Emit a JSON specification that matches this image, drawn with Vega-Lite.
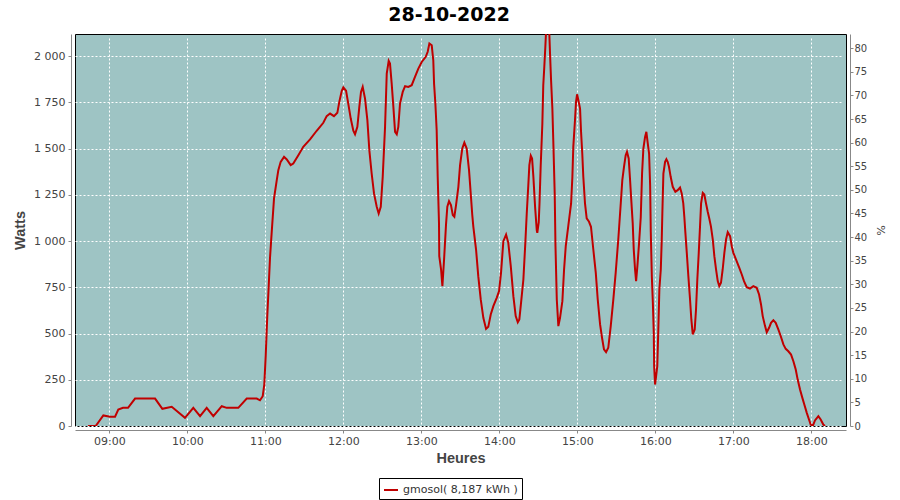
{
  "$schema": "https://vega.github.io/schema/vega-lite/v6.json",
  "width": 771,
  "height": 392,
  "autosize": "none",
  "padding": {"left": 75, "top": 34, "right": 54, "bottom": 74},
  "background": "white",
  "title": {"text": "28-10-2022", "font": "DejaVu Sans", "fontSize": 19, "fontWeight": "bold", "color": "black", "frame": "bounds", "anchor": "middle", "offset": 9},
  "config": {
    "view": {"fill": "#9ec4c4", "stroke": "black", "strokeWidth": 1},
    "axis": {
      "labelFont": "DejaVu Sans", "labelFontSize": 11, "labelColor": "#444444",
      "domainColor": "#888888", "tickColor": "#888888", "tickSize": 3,
      "titleFont": "Liberation Sans", "titleFontSize": 14.5, "titleFontWeight": "bold", "titleColor": "#444444",
      "gridColor": "white", "gridDash": [2, 2], "gridOpacity": 1, "gridWidth": 1,
      "offset": 4
    }
  },
  "resolve": {"scale": {"y": "independent"}},
  "layer": [
    {
      "data": {
        "format": {"parse": {"t": "utc:'%H:%M:%S'"}},
        "values": [
          {"t":"08:43:36","w":0},{"t":"08:49:30","w":0},{"t":"08:55:24","w":57},{"t":"09:00:32","w":50},{"t":"09:04:24","w":50},
          {"t":"09:06:54","w":89},{"t":"09:10:30","w":98},{"t":"09:14:24","w":98},{"t":"09:19:48","w":148},{"t":"09:25:12","w":148},
          {"t":"09:35:12","w":148},{"t":"09:40:48","w":93},{"t":"09:48:00","w":104},{"t":"09:58:12","w":44},{"t":"10:04:36","w":98},
          {"t":"10:09:48","w":53},{"t":"10:14:54","w":98},{"t":"10:20:00","w":53},{"t":"10:26:30","w":107},{"t":"10:30:18","w":98},
          {"t":"10:39:12","w":98},{"t":"10:45:42","w":148},{"t":"10:53:24","w":148},{"t":"10:55:54","w":139},{"t":"10:58:00","w":161},
          {"t":"10:59:12","w":224},{"t":"11:00:18","w":380},{"t":"11:01:30","w":594},{"t":"11:02:36","w":756},{"t":"11:03:36","w":909},
          {"t":"11:04:54","w":1047},{"t":"11:06:42","w":1230},{"t":"11:08:48","w":1329},{"t":"11:10:00","w":1383},{"t":"11:11:48","w":1428},
          {"t":"11:14:24","w":1455},{"t":"11:16:30","w":1441},{"t":"11:19:30","w":1410},{"t":"11:21:30","w":1419},{"t":"11:25:24","w":1464},
          {"t":"11:29:12","w":1509},{"t":"11:34:24","w":1549},{"t":"11:39:30","w":1596},{"t":"11:44:36","w":1639},{"t":"11:47:12","w":1675},
          {"t":"11:49:48","w":1689},{"t":"11:52:48","w":1675},{"t":"11:55:24","w":1693},{"t":"11:56:54","w":1752},{"t":"11:58:48","w":1812},
          {"t":"12:00:00","w":1830},{"t":"12:02:06","w":1812},{"t":"12:03:48","w":1743},{"t":"12:05:42","w":1662},{"t":"12:07:42","w":1596},
          {"t":"12:09:00","w":1577},{"t":"12:10:48","w":1617},{"t":"12:12:18","w":1725},{"t":"12:13:36","w":1806},{"t":"12:14:54","w":1833},
          {"t":"12:16:42","w":1770},{"t":"12:18:30","w":1653},{"t":"12:20:00","w":1491},{"t":"12:21:48","w":1365},{"t":"12:23:36","w":1257},
          {"t":"12:25:42","w":1185},{"t":"12:27:12","w":1149},{"t":"12:28:48","w":1185},{"t":"12:30:18","w":1347},{"t":"12:32:06","w":1617},
          {"t":"12:33:24","w":1905},{"t":"12:34:54","w":1974},{"t":"12:35:54","w":1959},{"t":"12:37:12","w":1851},{"t":"12:38:30","w":1725},
          {"t":"12:39:48","w":1590},{"t":"12:41:06","w":1577},{"t":"12:42:18","w":1617},{"t":"12:43:36","w":1743},{"t":"12:45:42","w":1806},
          {"t":"12:47:30","w":1837},{"t":"12:50:00","w":1833},{"t":"12:52:36","w":1842},{"t":"12:55:12","w":1888},{"t":"12:57:42","w":1932},
          {"t":"13:00:18","w":1968},{"t":"13:03:24","w":1996},{"t":"13:04:54","w":2023},{"t":"13:06:12","w":2068},{"t":"13:08:00","w":2058},
          {"t":"13:09:12","w":1977},{"t":"13:09:48","w":1851},{"t":"13:10:48","w":1743},{"t":"13:11:48","w":1599},{"t":"13:12:36","w":1347},
          {"t":"13:13:36","w":1095},{"t":"13:13:48","w":918},{"t":"13:15:12","w":846},{"t":"13:16:12","w":756},{"t":"13:17:30","w":900},
          {"t":"13:19:00","w":1090},{"t":"13:20:00","w":1185},{"t":"13:21:18","w":1215},{"t":"13:22:48","w":1194},{"t":"13:24:12","w":1140},
          {"t":"13:25:24","w":1131},{"t":"13:26:42","w":1194},{"t":"13:28:30","w":1293},{"t":"13:29:48","w":1410},{"t":"13:31:30","w":1500},
          {"t":"13:33:06","w":1532},{"t":"13:34:54","w":1500},{"t":"13:36:42","w":1383},{"t":"13:38:00","w":1257},{"t":"13:39:12","w":1140},
          {"t":"13:40:00","w":1078},{"t":"13:42:06","w":954},{"t":"13:43:48","w":810},{"t":"13:45:42","w":684},{"t":"13:47:42","w":585},
          {"t":"13:49:48","w":525},{"t":"13:51:30","w":536},{"t":"13:53:24","w":603},{"t":"13:55:24","w":648},{"t":"13:58:00","w":693},
          {"t":"13:59:48","w":729},{"t":"14:01:18","w":828},{"t":"14:03:06","w":999},{"t":"14:05:12","w":1035},{"t":"14:06:54","w":990},
          {"t":"14:08:48","w":864},{"t":"14:10:48","w":702},{"t":"14:12:36","w":594},{"t":"14:14:12","w":561},{"t":"14:15:24","w":576},
          {"t":"14:16:42","w":666},{"t":"14:18:30","w":792},{"t":"14:20:00","w":990},{"t":"14:21:06","w":1150},{"t":"14:22:18","w":1302},
          {"t":"14:23:06","w":1410},{"t":"14:24:12","w":1461},{"t":"14:25:12","w":1446},{"t":"14:26:12","w":1347},{"t":"14:27:30","w":1185},
          {"t":"14:28:48","w":1058},{"t":"14:29:12","w":1044},{"t":"14:30:18","w":1100},{"t":"14:30:54","w":1203},{"t":"14:31:48","w":1401},
          {"t":"14:33:06","w":1635},{"t":"14:33:48","w":1842},{"t":"14:34:36","w":1942},{"t":"14:35:24","w":2050},{"t":"14:36:42","w":2250},
          {"t":"14:37:48","w":2250},{"t":"14:39:00","w":2014},{"t":"14:39:48","w":1869},{"t":"14:40:48","w":1716},{"t":"14:41:30","w":1545},
          {"t":"14:42:36","w":1257},{"t":"14:43:12","w":972},{"t":"14:44:12","w":684},{"t":"14:45:24","w":540},{"t":"14:46:42","w":585},
          {"t":"14:48:30","w":675},{"t":"14:49:48","w":846},{"t":"14:51:06","w":972},{"t":"14:53:06","w":1085},{"t":"14:55:12","w":1203},
          {"t":"14:56:12","w":1347},{"t":"14:56:54","w":1509},{"t":"14:58:12","w":1653},{"t":"14:59:00","w":1752},{"t":"14:59:48","w":1793},
          {"t":"15:00:48","w":1761},{"t":"15:02:06","w":1716},{"t":"15:02:48","w":1599},{"t":"15:03:48","w":1473},{"t":"15:04:36","w":1347},
          {"t":"15:05:54","w":1203},{"t":"15:07:12","w":1122},{"t":"15:09:00","w":1104},{"t":"15:10:30","w":1077},{"t":"15:12:18","w":954},
          {"t":"15:14:12","w":828},{"t":"15:15:42","w":684},{"t":"15:17:30","w":549},{"t":"15:19:00","w":477},{"t":"15:20:30","w":414},
          {"t":"15:22:06","w":399},{"t":"15:23:48","w":423},{"t":"15:25:42","w":540},{"t":"15:27:42","w":684},{"t":"15:29:30","w":828},
          {"t":"15:31:30","w":1008},{"t":"15:33:24","w":1203},{"t":"15:34:36","w":1329},{"t":"15:35:54","w":1401},{"t":"15:37:12","w":1464},
          {"t":"15:38:12","w":1482},{"t":"15:39:30","w":1446},{"t":"15:40:30","w":1338},{"t":"15:41:30","w":1221},{"t":"15:42:36","w":1097},
          {"t":"15:43:24","w":954},{"t":"15:44:24","w":846},{"t":"15:45:12","w":783},{"t":"15:46:12","w":864},{"t":"15:47:30","w":990},
          {"t":"15:48:48","w":1130},{"t":"15:49:48","w":1365},{"t":"15:50:48","w":1500},{"t":"15:52:06","w":1563},{"t":"15:53:06","w":1590},
          {"t":"15:54:12","w":1527},{"t":"15:55:12","w":1473},{"t":"15:56:00","w":1302},{"t":"15:56:30","w":1050},{"t":"15:57:18","w":810},
          {"t":"15:58:06","w":666},{"t":"15:58:48","w":504},{"t":"15:59:06","w":323},{"t":"15:59:48","w":224},{"t":"16:00:36","w":269},
          {"t":"16:01:30","w":323},{"t":"16:02:18","w":522},{"t":"16:03:06","w":738},{"t":"16:04:12","w":846},{"t":"16:04:54","w":999},
          {"t":"16:05:24","w":1150},{"t":"16:06:12","w":1365},{"t":"16:07:30","w":1428},{"t":"16:08:30","w":1442},{"t":"16:09:30","w":1428},
          {"t":"16:10:30","w":1401},{"t":"16:11:48","w":1347},{"t":"16:13:24","w":1293},{"t":"16:15:24","w":1266},{"t":"16:17:12","w":1275},
          {"t":"16:19:00","w":1289},{"t":"16:20:18","w":1257},{"t":"16:21:30","w":1203},{"t":"16:22:18","w":1131},{"t":"16:23:06","w":1047},
          {"t":"16:24:12","w":936},{"t":"16:25:24","w":810},{"t":"16:26:42","w":684},{"t":"16:27:42","w":576},{"t":"16:28:48","w":495},
          {"t":"16:30:18","w":522},{"t":"16:31:18","w":630},{"t":"16:32:18","w":792},{"t":"16:33:24","w":936},{"t":"16:34:24","w":1082},
          {"t":"16:35:12","w":1203},{"t":"16:36:30","w":1260},{"t":"16:37:42","w":1251},{"t":"16:39:00","w":1203},{"t":"16:40:18","w":1158},
          {"t":"16:41:30","w":1122},{"t":"16:42:48","w":1078},{"t":"16:44:12","w":1008},{"t":"16:45:24","w":918},{"t":"16:46:42","w":846},
          {"t":"16:48:00","w":783},{"t":"16:49:12","w":756},{"t":"16:50:30","w":774},{"t":"16:51:48","w":846},{"t":"16:53:06","w":936},
          {"t":"16:54:24","w":1008},{"t":"16:55:42","w":1048},{"t":"16:57:30","w":1026},{"t":"16:58:48","w":972},{"t":"17:00:00","w":936},
          {"t":"17:02:06","w":900},{"t":"17:04:36","w":855},{"t":"17:06:30","w":819},{"t":"17:08:12","w":783},{"t":"17:10:18","w":750},
          {"t":"17:12:48","w":743},{"t":"17:15:24","w":756},{"t":"17:18:00","w":747},{"t":"17:19:48","w":711},{"t":"17:21:18","w":657},
          {"t":"17:22:36","w":594},{"t":"17:24:24","w":540},{"t":"17:25:42","w":507},{"t":"17:27:30","w":531},{"t":"17:29:00","w":558},
          {"t":"17:30:48","w":572},{"t":"17:32:36","w":558},{"t":"17:34:36","w":522},{"t":"17:36:30","w":485},{"t":"17:38:30","w":441},
          {"t":"17:40:18","w":417},{"t":"17:42:18","w":404},{"t":"17:44:24","w":386},{"t":"17:46:12","w":350},{"t":"17:48:00","w":305},
          {"t":"17:49:30","w":251},{"t":"17:51:18","w":197},{"t":"17:53:06","w":152},{"t":"17:54:36","w":116},{"t":"17:56:30","w":71},
          {"t":"17:58:12","w":35},{"t":"17:59:30","w":8},{"t":"18:01:06","w":0},{"t":"18:02:48","w":30},{"t":"18:05:24","w":53},
          {"t":"18:07:12","w":35},{"t":"18:09:12","w":8},{"t":"18:10:30","w":0}
        ]
      },
      "mark": {"type": "line", "strokeWidth": 2, "clip": true},
      "encoding": {
        "x": {
          "field": "t", "type": "temporal",
          "scale": {"type": "utc", "domain": [
            {"year": 1900, "month": 1, "date": 1, "hours": 8, "minutes": 33, "seconds": 36, "utc": true},
            {"year": 1900, "month": 1, "date": 1, "hours": 18, "minutes": 26, "seconds": 40, "utc": true}
          ]},
          "axis": {
            "title": "Heures",
            "labelExpr": "utcFormat(datum.value, '%H:%M')",
            "values": [
              {"year": 1900, "month": 1, "date": 1, "hours": 9, "utc": true},
              {"year": 1900, "month": 1, "date": 1, "hours": 10, "utc": true},
              {"year": 1900, "month": 1, "date": 1, "hours": 11, "utc": true},
              {"year": 1900, "month": 1, "date": 1, "hours": 12, "utc": true},
              {"year": 1900, "month": 1, "date": 1, "hours": 13, "utc": true},
              {"year": 1900, "month": 1, "date": 1, "hours": 14, "utc": true},
              {"year": 1900, "month": 1, "date": 1, "hours": 15, "utc": true},
              {"year": 1900, "month": 1, "date": 1, "hours": 16, "utc": true},
              {"year": 1900, "month": 1, "date": 1, "hours": 17, "utc": true},
              {"year": 1900, "month": 1, "date": 1, "hours": 18, "utc": true}
            ],
            "labelPadding": 2, "titlePadding": 5, "labelFlush": false, "labelOverlap": false
          }
        },
        "y": {
          "field": "w", "type": "quantitative",
          "scale": {"domain": [0, 2119], "nice": false, "zero": true},
          "axis": {
            "title": "Watts", "orient": "left",
            "values": [0, 250, 500, 750, 1000, 1250, 1500, 1750, 2000],
            "labelExpr": "replace(format(datum.value, ','), ',', ' ')",
            "labelPadding": 3, "titlePadding": 6
          }
        },
        "color": {
          "datum": "gmosol( 8,187 kWh )",
          "scale": {"range": ["#c00000"]},
          "legend": {
            "orient": "none", "legendX": 304, "legendY": 444, "title": null,
            "strokeColor": "black", "fillColor": "white", "padding": 4,
            "labelFont": "DejaVu Sans", "labelFontSize": 11, "labelColor": "#333333",
            "symbolType": "stroke", "symbolStrokeWidth": 2, "symbolSize": 196, "labelOffset": 4
          }
        }
      }
    },
    {
      "data": {"values": [{"pct": 0}, {"pct": 83}]},
      "mark": {"type": "rule", "opacity": 0},
      "encoding": {
        "y": {
          "field": "pct", "type": "quantitative",
          "scale": {"domain": [0, 83], "nice": false},
          "axis": {
            "orient": "right", "title": "%", "grid": false,
            "values": [0, 5, 10, 15, 20, 25, 30, 35, 40, 45, 50, 55, 60, 65, 70, 75, 80],
            "labelFontSize": 10, "labelPadding": 1,
            "titleFont": "DejaVu Sans", "titleFontSize": 11, "titleFontWeight": "normal", "titlePadding": 8
          }
        }
      }
    }
  ]
}
